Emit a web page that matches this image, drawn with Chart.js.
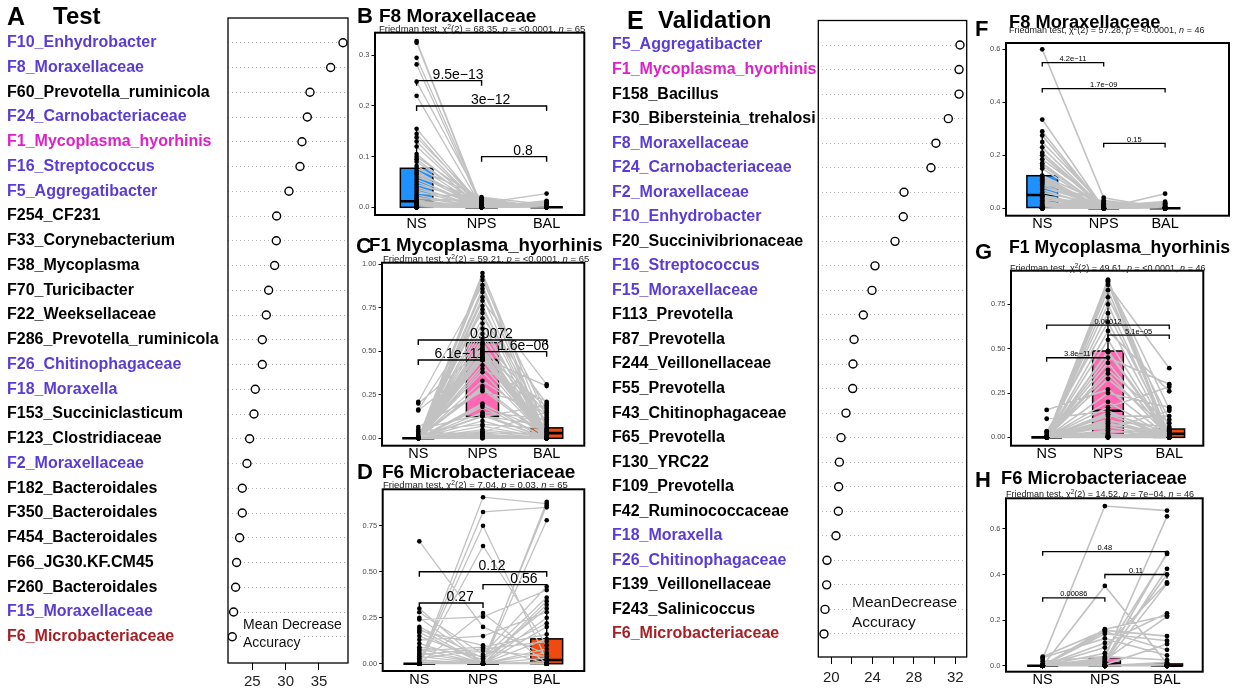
<!DOCTYPE html>
<html>
<head>
<meta charset="utf-8">
<script src="https://cdn.jsdelivr.net/npm/chart.js@4.4.1/dist/chart.umd.min.js"></script>
<style>
  html, body { margin: 0; padding: 0; background: #fff; }
  #fig { position: relative; width: 1233px; height: 691px; overflow: hidden;
         font-family: 'Liberation Sans', Arial, Helvetica, sans-serif; color: #000; }
  #fig canvas { position: absolute; left: 0; top: 0; }
  .t { position: absolute; transform: translateY(-50%); line-height: 1; white-space: nowrap; z-index: 5; }
  .b { font-weight: bold; }
  .sub { color: #1a1a1a; }
  .sub sup { font-size: 70%; vertical-align: 0.45em; line-height: 0; }
  .note { background: #fff; color: #111; }
</style>
</head>
<body>
<div id="fig">
  <!-- panel A / E headings -->
  <div class="t b" style="left:7px;top:16px;font-size:25px">A</div>
  <div class="t b" style="left:53px;top:16px;font-size:24px">Test</div>
  <div class="t b" style="left:627px;top:20px;font-size:25px">E</div>
  <div class="t b" style="left:658px;top:20px;font-size:24px">Validation</div>

  <!-- paired panel headings -->
  <div class="t b" style="left:357px;top:16px;font-size:22px">B</div>
  <div class="t b" style="left:379px;top:15px;font-size:19px">F8 Moraxellaceae</div>
  <div class="t sub" style="left:379px;top:28.5px;font-size:9.5px">Friedman test, χ<sup>2</sup>(2) = 68.35, <i>p</i> = &lt;0.0001, <i>n</i> = 65</div>

  <div class="t b" style="left:356px;top:246px;font-size:22px">C</div>
  <div class="t b" style="left:369px;top:245px;font-size:18.7px">F1 Mycoplasma_hyorhinis</div>
  <div class="t sub" style="left:383px;top:258.5px;font-size:9.5px">Friedman test, χ<sup>2</sup>(2) = 59.21, <i>p</i> = &lt;0.0001, <i>n</i> = 65</div>

  <div class="t b" style="left:357px;top:472px;font-size:22px">D</div>
  <div class="t b" style="left:382px;top:471px;font-size:19px">F6 Microbacteriaceae</div>
  <div class="t sub" style="left:383px;top:484.5px;font-size:9.5px">Friedman test, χ<sup>2</sup>(2) = 7.04, <i>p</i> = 0.03, <i>n</i> = 65</div>

  <div class="t b" style="left:975px;top:29px;font-size:22px">F</div>
  <div class="t b" style="left:1009px;top:21.5px;font-size:18.3px">F8 Moraxellaceae</div>
  <div class="t sub" style="left:1009px;top:29.5px;font-size:9px">Friedman test, χ<sup>2</sup>(2) = 57.28, <i>p</i> = &lt;0.0001, <i>n</i> = 46</div>

  <div class="t b" style="left:975px;top:252px;font-size:22px">G</div>
  <div class="t b" style="left:1009px;top:248px;font-size:17.7px">F1 Mycoplasma_hyorhinis</div>
  <div class="t sub" style="left:1010px;top:267.5px;font-size:9px">Friedman test, χ<sup>2</sup>(2) = 49.61, <i>p</i> = &lt;0.0001, <i>n</i> = 46</div>

  <div class="t b" style="left:975px;top:480px;font-size:22px">H</div>
  <div class="t b" style="left:1001px;top:478px;font-size:18.3px">F6 Microbacteriaceae</div>
  <div class="t sub" style="left:1006px;top:494px;font-size:9px">Friedman test, χ<sup>2</sup>(2) = 14.52, <i>p</i> = 7e−04, <i>n</i> = 46</div>

  <!-- importance axis notes -->
  <div class="t note" style="left:243px;top:624px;font-size:14px">Mean Decrease</div>
  <div class="t note" style="left:243px;top:642px;font-size:14px">Accuracy</div>
  <div class="t note" style="left:852px;top:602px;font-size:15.5px">MeanDecrease</div>
  <div class="t note" style="left:852px;top:622px;font-size:15.5px">Accuracy</div>
</div>

<script>
// ---------- feature importance (random forest, mean decrease accuracy) ----------
const testNames = ['F10_Enhydrobacter','F8_Moraxellaceae','F60_Prevotella_ruminicola','F24_Carnobacteriaceae',
  'F1_Mycoplasma_hyorhinis','F16_Streptococcus','F5_Aggregatibacter','F254_CF231','F33_Corynebacterium',
  'F38_Mycoplasma','F70_Turicibacter','F22_Weeksellaceae','F286_Prevotella_ruminicola','F26_Chitinophagaceae',
  'F18_Moraxella','F153_Succiniclasticum','F123_Clostridiaceae','F2_Moraxellaceae','F182_Bacteroidales',
  'F350_Bacteroidales','F454_Bacteroidales','F66_JG30.KF.CM45','F260_Bacteroidales','F15_Moraxellaceae',
  'F6_Microbacteriaceae'];
const testImportance = [38.6,36.75,33.65,33.25,32.45,32.15,30.5,28.65,28.6,28.35,27.45,27.1,26.5,26.5,
  25.45,25.25,24.6,24.2,23.5,23.5,23.1,22.65,22.5,22.2,22.0];
const testTone = ['b','b','k','b','m','b','b','k','k','k','k','k','k','b','b','k','k','b','k','k','k','k','k','b','r'];
const testTicks = [25,30,35];

const validNames = ['F5_Aggregatibacter','F1_Mycoplasma_hyorhinis','F158_Bacillus','F30_Bibersteinia_trehalosi',
  'F8_Moraxellaceae','F24_Carnobacteriaceae','F2_Moraxellaceae','F10_Enhydrobacter','F20_Succinivibrionaceae',
  'F16_Streptococcus','F15_Moraxellaceae','F113_Prevotella','F87_Prevotella','F244_Veillonellaceae',
  'F55_Prevotella','F43_Chitinophagaceae','F65_Prevotella','F130_YRC22','F109_Prevotella','F42_Ruminococcaceae',
  'F18_Moraxella','F26_Chitinophagaceae','F139_Veillonellaceae','F243_Salinicoccus','F6_Microbacteriaceae'];
const validImportance = [32.46,32.37,32.37,31.33,30.13,29.65,27.04,26.97,26.17,24.23,23.94,23.1,22.2,22.1,
  22.07,21.42,20.94,20.78,20.71,20.68,20.45,19.58,19.55,19.39,19.29];
const validTone = ['b','m','k','k','b','b','b','b','k','b','b','k','k','k','k','k','k','k','k','k','b','b','k','k','r'];
const validTicks = [20,22,24,26,28,30,32];
const validTickLabels = [20,24,28,32];

// ---------- paired relative abundance: NS / NPS / BAL ----------
const sites = ['NS','NPS','BAL'];

// B: F8 Moraxellaceae (test, n = 65)
const nsB = [
  0.328,0.325,0.295,0.282,0.248,0.220,0.155,0.145,0.138,0.130,
  0.120,0.105,0.100,0.095,0.090,0.082,0.077,0.072,0.068,0.065,
  0.060,0.055,0.050,0.045,0.040,0.036,0.032,0.028,0.024,0.020,
  0.017,0.014,0.012,0.011,0.010,0.009,0.008,0.007,0.006,0.005,
  0.004,0.004,0.003,0.003,0.002,0.002,0.001,0.001,0,0,
  0,0,0,0,0,0,0,0,0,0,
  0,0,0,0,0];
const npsB = [
  0.002,0,0.005,0,0.010,0,0.003,0,0.008,0,
  0.001,0,0.012,0,0.004,0,0.020,0,0.006,0,
  0.015,0,0,0.009,0,0.002,0,0.018,0,0,
  0.013,0,0.016,0,0,0,0,0,0,0,
  0,0,0,0,0,0,0,0,0,0,
  0,0,0,0,0,0,0,0,0,0,
  0,0,0,0,0];
const balB = [
  0,0.002,0,0,0.004,0,0,0.001,0.027,0,
  0.006,0,0,0.003,0,0,0.005,0,0,0.008,
  0,0,0.012,0,0,0.010,0,0,0.013,0,
  0,0.002,0,0,0,0,0,0,0,0,
  0,0,0,0,0,0,0,0,0,0,
  0,0,0,0,0,0,0,0,0,0,
  0,0,0,0,0];
// box summaries per site: [lower whisker, Q1, median, Q3, upper whisker]
const boxB = [[0,0,0.012,0.077,0.155],[0,0,0,0,0.004],[0,0,0,0.001,0.003]];
const testsB = [[0,1,0.25,'9.5e−13'],[0,2,0.20,'3e−12'],[1,2,0.10,'0.8']];

// C: F1 Mycoplasma_hyorhinis (test, n = 65)
const nsC = [
  0,0,0,0.21,0,0,0,0,0,0,
  0.165,0,0,0,0,0,0,0,0,0,
  0.20,0,0,0,0,0,0,0,0,0,
  0.16,0,0,0,0,0,0,0,0,0,
  0.065,0,0,0,0,0.05,0,0,0,0,
  0.04,0,0,0,0,0.03,0,0,0.02,0,
  0.015,0,0.01,0.005,0];
const npsC = [
  0.95,0.93,0.91,0.88,0.86,0.84,0.81,0.79,0.76,0.74,
  0.72,0.69,0.66,0.63,0.60,0.57,0.55,0.54,0.53,0.52,
  0.51,0.50,0.49,0.485,0.48,0.47,0.465,0.46,0.455,0.45,
  0.45,0.45,0.45,0.42,0.40,0.38,0.33,0.30,0.29,0.28,
  0.27,0.20,0.19,0.18,0.15,0.14,0.13,0.13,0.125,0.10,
  0.08,0.07,0.05,0.04,0.035,0.03,0.025,0.02,0.015,0.01,
  0.008,0.005,0.003,0.001,0];
const balC = [
  0.05,0,0.12,0,0.02,0.16,0,0.31,0,0.08,
  0,0.20,0,0.035,0,0.14,0,0.005,0.10,0,
  0.045,0,0.18,0,0.01,0,0.30,0,0.06,0,
  0.13,0,0.025,0,0.21,0,0.09,0,0.015,0,
  0.17,0,0.04,0,0.11,0,0.07,0,0.19,0,
  0.055,0,0.008,0,0.15,0.03,0,0.002,0,0.003,
  0,0,0,0,0];
const boxC = [[0,0,0,0,0],[0,0.125,0.45,0.55,0.95],[0,0,0.03,0.06,0.15]];
const testsC = [[0,1,0.45,'6.1e−11'],[0,2,0.565,'0.0072'],[1,2,0.498,'1.6e−06']];

// D: F6 Microbacteriaceae (test, n = 65)
const nsD = [
  0,0,0,0,0.665,0.30,0,0.28,0,0.25,
  0.24,0.20,0.19,0.18,0.17,0.15,0.13,0.11,0.09,0.08,
  0.07,0.06,0.05,0.04,0.03,0.02,0.01,0,0,0,
  0,0,0,0,0,0,0,0,0,0,
  0,0,0,0,0,0,0,0,0,0,
  0,0,0,0,0,0,0,0,0,0,
  0,0,0,0,0];
const npsD = [
  0.905,0.825,0.75,0.64,0.20,0,0.01,0.05,0.275,0,
  0.255,0.03,0,0.10,0,0.02,0.15,0,0.04,0,
  0.09,0,0.08,0,0.07,0,0,0,0,0,
  0,0,0,0,0,0,0,0,0,0,
  0,0,0,0,0,0,0,0,0,0,
  0,0,0,0,0,0,0,0,0,0,
  0,0,0,0,0];
const balD = [
  0.87,0.85,0.02,0.10,0.05,0.88,0.86,0.42,0,0.78,
  0.40,0.36,0.34,0,0.32,0.30,0.28,0.25,0.22,0.20,
  0.16,0.135,0.12,0.06,0.04,0.03,0.01,0.08,0,0,
  0,0,0,0,0,0,0,0,0,0,
  0,0,0,0,0,0,0,0,0,0,
  0,0,0,0,0,0,0,0,0,0,
  0,0,0,0,0];
const boxD = [[0,0,0,0,0],[0,0,0,0,0],[0,0,0.02,0.135,0.32]];
const testsD = [[0,1,0.33,'0.27'],[0,2,0.50,'0.12'],[1,2,0.43,'0.56']];

// F: F8 Moraxellaceae (validation, n = 46)
const nsF = [
  0.6,0.335,0.29,0.275,0.25,0.23,0.21,0.2,0.185,0.17,
  0.16,0.15,0.123,0.12,0.115,0.11,0.105,0.1,0.095,0.09,
  0.08,0.07,0.06,0.05,0.048,0.045,0.04,0.035,0.03,0.025,
  0.02,0.015,0.01,0.008,0.005,0,0,0,0,0,
  0,0,0,0,0,0];
const npsF = [
  0.04,0,0.003,0,0.01,0,0.002,0,0.015,0,
  0.006,0,0.02,0,0.001,0,0.005,0,0.025,0,
  0.008,0,0.012,0,0.004,0,0.018,0,0.03,0,
  0,0,0,0,0,0,0,0,0,0,
  0,0,0,0,0,0];
const balF = [
  0,0.002,0,0.01,0,0.005,0,0,0.02,0,
  0,0.015,0,0,0.003,0,0,0.008,0,0,
  0.025,0,0,0.018,0,0,0,0,0,0,
  0,0.055,0,0,0,0,0,0,0,0,
  0,0,0,0,0,0];
const boxF = [[0,0.003,0.05,0.123,0.29],[0,0,0,0,0],[0,0,0,0,0]];
const testsF = [[0,1,0.55,'4.2e−11'],[0,2,0.452,'1.7e−09'],[1,2,0.245,'0.15']];

// G: F1 Mycoplasma_hyorhinis (validation, n = 46)
const nsG = [
  0,0,0,0,0,0,0,0,0,0.03,
  0,0,0,0,0,0,0,0,0,0.155,
  0,0,0,0.105,0,0,0,0,0,0,
  0,0,0.035,0,0,0,0,0.02,0,0,
  0,0.01,0,0,0.005,0];
const npsG = [
  0.89,0.885,0.88,0.87,0.86,0.83,0.79,0.75,0.70,0.65,
  0.60,0.55,0.487,0.48,0.45,0.42,0.38,0.36,0.33,0.27,
  0.25,0.20,0.17,0.15,0.14,0.13,0.12,0.10,0.09,0.08,
  0.07,0.06,0.05,0.04,0.03,0.02,0.015,0.01,0.008,0.005,
  0.003,0.001,0,0,0,0];
const balG = [
  0.05,0,0.16,0,0.39,0,0.10,0,0.03,0,
  0.26,0,0.015,0,0.30,0,0.08,0,0.045,0,
  0.17,0,0.285,0,0.025,0,0.12,0,0.06,0,
  0.035,0,0.15,0,0.04,0,0.02,0,0.01,0,
  0.005,0,0,0,0,0];
const boxG = [[0,0,0,0,0],[0,0.02,0.15,0.487,0.89],[0,0,0.02,0.047,0.10]];
const testsG = [[0,1,0.449,'3.8e−11'],[0,2,0.633,'0.00012'],[1,2,0.577,'5.1e−05']];

// H: F6 Microbacteriaceae (validation, n = 46)
const nsH = [
  0.03,0,0,0.04,0,0,0.035,0,0,0,
  0.02,0,0,0,0.01,0,0,0,0,0,
  0,0,0,0,0,0,0,0,0,0,
  0,0,0,0,0,0,0,0,0,0,
  0,0,0,0,0,0];
const npsH = [
  0.70,0.35,0.16,0.155,0.15,0.14,0.12,0.10,0.08,0.055,
  0.04,0.035,0.03,0.025,0.02,0.015,0.01,0.005,0,0,
  0,0,0,0,0,0,0,0,0,0,
  0,0,0,0,0,0,0,0,0,0,
  0,0,0,0,0,0];
const balH = [
  0.68,0.01,0.22,0.13,0.07,0.11,0.045,0.23,0.365,0.49,
  0.025,0.655,0.40,0.215,0.495,0.425,0.36,0.095,0.015,0.005,
  0,0,0,0,0,0,0,0,0,0,
  0,0,0,0,0,0,0,0,0,0,
  0,0,0,0,0,0];
const boxH = [[0,0,0,0,0],[0,0,0.01,0.035,0.08],[0,0,0,0.008,0.015]];
const testsH = [[0,1,0.298,'0.00086'],[0,2,0.50,'0.48'],[1,2,0.40,'0.11']];

// ---------- drawing ----------
const FONT = "'Liberation Sans', Arial, Helvetica, sans-serif";
Chart.defaults.font.family = FONT;
Chart.defaults.color = '#000';
const W = 1233, H = 691;
const fig = document.getElementById('fig');
const toneColor = { b: '#5a3bd4', m: '#e01fc6', r: '#a51f24', k: '#000000' };
const siteFill = ['#1e90ff', '#ff69b4', '#f04a10'];

function addCanvas() {
  const c = document.createElement('canvas');
  c.width = W; c.height = H;
  c.style.width = W + 'px'; c.style.height = H + 'px';
  fig.appendChild(c);
  return c.getContext('2d');
}

// plot frame around the chart area
const framePlugin = {
  id: 'frame',
  afterDraw(chart, args, opts) {
    const { ctx, chartArea: a } = chart;
    ctx.save();
    ctx.strokeStyle = '#000';
    ctx.lineWidth = opts.width || 1.5;
    ctx.strokeRect(a.left, a.top, a.right - a.left, a.bottom - a.top);
    ctx.restore();
  }
};

// box-and-whisker per site, drawn under the paired lines
const boxPlugin = {
  id: 'boxes',
  beforeDatasetsDraw(chart, args, opts) {
    if (!opts.stats) return;
    const { ctx, chartArea: a, scales: { x, y } } = chart;
    ctx.save();
    ctx.beginPath(); ctx.rect(a.left, a.top, a.right - a.left, a.bottom - a.top); ctx.clip();
    opts.stats.forEach((s, g) => {
      const [lo, q1, med, q3, hi] = s;
      const cx = x.getPixelForValue(g);
      const hw = x.getPixelForValue(g + opts.width / 2) - cx;
      const yq1 = y.getPixelForValue(q1), yq3 = y.getPixelForValue(q3);
      ctx.strokeStyle = '#000';
      ctx.lineWidth = 1.4;
      ctx.beginPath();
      ctx.moveTo(cx, y.getPixelForValue(hi)); ctx.lineTo(cx, yq3);
      ctx.moveTo(cx, yq1); ctx.lineTo(cx, y.getPixelForValue(lo));
      ctx.stroke();
      if (yq1 - yq3 < 1.5) {
        ctx.lineWidth = 2.6;
        ctx.beginPath(); ctx.moveTo(cx - hw, yq1); ctx.lineTo(cx + hw, yq1); ctx.stroke();
      } else {
        ctx.fillStyle = siteFill[g];
        ctx.fillRect(cx - hw, yq3, 2 * hw, yq1 - yq3);
        ctx.lineWidth = 1.5;
        ctx.strokeRect(cx - hw, yq3, 2 * hw, yq1 - yq3);
        const ym = y.getPixelForValue(med);
        ctx.lineWidth = 2.6;
        ctx.beginPath(); ctx.moveTo(cx - hw, ym); ctx.lineTo(cx + hw, ym); ctx.stroke();
      }
    });
    ctx.restore();
  }
};

// pairwise comparison brackets with p-values
const bracketPlugin = {
  id: 'brackets',
  afterDatasetsDraw(chart, args, opts) {
    if (!opts.items) return;
    const { ctx, scales: { x, y } } = chart;
    ctx.save();
    ctx.strokeStyle = '#000'; ctx.fillStyle = '#000';
    ctx.lineWidth = opts.lineWidth;
    ctx.font = opts.size + 'px ' + FONT;
    ctx.textAlign = 'center'; ctx.textBaseline = 'alphabetic';
    opts.items.forEach(([g1, g2, v, label]) => {
      const x1 = x.getPixelForValue(g1), x2 = x.getPixelForValue(g2), yy = y.getPixelForValue(v);
      ctx.beginPath();
      ctx.moveTo(x1, yy + opts.tip); ctx.lineTo(x1, yy); ctx.lineTo(x2, yy); ctx.lineTo(x2, yy + opts.tip);
      ctx.stroke();
      ctx.fillText(label, (x1 + x2) / 2 + opts.dx, yy - opts.gap);
    });
    ctx.restore();
  }
};

function importancePanel(p) {
  const ctx = addCanvas();
  new Chart(ctx, {
    type: 'scatter',
    data: { datasets: [{
      data: p.values.map((v, i) => ({ x: v, y: i })),
      pointRadius: 4, pointBorderWidth: 1.4,
      pointBorderColor: '#000', pointBackgroundColor: '#fff'
    }] },
    options: {
      responsive: false, animation: false, events: [], devicePixelRatio: 1,
      layout: { padding: { left: p.labelLeft, top: p.area.t, right: W - p.area.r, bottom: 0 } },
      plugins: { legend: { display: false }, tooltip: { enabled: false }, frame: { width: 1.3 } },
      scales: {
        x: {
          type: 'linear', min: p.xr[0], max: p.xr[1],
          afterBuildTicks: s => { s.ticks = p.ticks.map(v => ({ value: v })); },
          ticks: { callback: v => (p.tickLabels.includes(v) ? String(v) : ''), font: { size: 15 },
                   color: '#222', padding: p.xPad, maxRotation: 0, autoSkip: false },
          grid: { drawOnChartArea: false, drawTicks: true, tickLength: 7, color: '#000', lineWidth: 1 },
          border: { display: false },
          afterFit: s => { s.height = H - p.area.b; }
        },
        y: {
          type: 'linear', reverse: true, min: p.yr[0], max: p.yr[1],
          afterBuildTicks: s => { s.ticks = p.names.map((_, i) => ({ value: i })); },
          ticks: { callback: v => p.names[v], color: c => toneColor[p.tones[c.index]],
                   crossAlign: 'far', font: { size: 16, weight: 'bold' }, autoSkip: false, padding: 0 },
          grid: { drawTicks: false, color: '#b3b3b3', lineWidth: 1 },
          border: { display: false, dash: [1, 3] },
          afterFit: s => { s.width = p.area.l - p.labelLeft; }
        }
      }
    },
    plugins: [framePlugin]
  });
}

function pairedPanel(p) {
  const ctx = addCanvas();
  const lines = [], dots = [];
  for (let i = 0; i < p.ns.length; i++) {
    [p.ns[i], p.nps[i], p.bal[i]].forEach((v, g) => {
      lines.push({ x: g, y: v });
      dots.push({ x: g, y: v });
    });
    lines.push({ x: 2, y: null });
  }
  const yw = 30, xh = Math.min(20, H - p.area.b);
  new Chart(ctx, {
    type: 'scatter',
    data: { datasets: [
      { type: 'scatter', data: dots, pointRadius: p.dot, pointBackgroundColor: '#000',
        pointBorderWidth: 0, pointBorderColor: '#000' },
      { type: 'line', data: lines, borderColor: '#c2c2c2', borderWidth: p.lw, pointRadius: 0,
        spanGaps: false, fill: false, tension: 0 }
    ] },
    options: {
      responsive: false, animation: false, events: [], devicePixelRatio: 1,
      layout: { padding: { left: p.area.l - yw, top: p.area.t, right: W - p.area.r, bottom: H - p.area.b - xh } },
      plugins: {
        legend: { display: false }, tooltip: { enabled: false },
        frame: { width: 2 },
        boxes: { stats: p.box, width: 0.5 },
        brackets: p.bracket
      },
      scales: {
        x: {
          type: 'linear', min: p.xr[0], max: p.xr[1],
          afterBuildTicks: s => { s.ticks = sites.map((_, i) => ({ value: i })); },
          ticks: { callback: v => sites[v], font: { size: 14.5 }, color: '#000', padding: 0,
                   maxRotation: 0, autoSkip: false },
          grid: { display: false, drawTicks: false },
          border: { display: false },
          afterFit: s => { s.height = xh; }
        },
        y: {
          type: 'linear', min: p.yr[0], max: p.yr[1],
          afterBuildTicks: s => { s.ticks = p.yt.map(v => ({ value: v })); },
          ticks: { callback: v => v.toFixed(p.dec), font: { size: 7.5 }, color: '#4d4d4d', padding: 2 },
          grid: { drawOnChartArea: false, drawTicks: true, tickLength: 3.5, color: '#000', lineWidth: 1 },
          border: { display: false },
          afterFit: s => { s.width = yw; }
        }
      }
    },
    plugins: [boxPlugin, bracketPlugin, framePlugin]
  });
}

importancePanel({ names: testNames, values: testImportance, tones: testTone, ticks: testTicks,
  tickLabels: testTicks, labelLeft: 7, area: { l: 228, t: 18, r: 348, b: 663 },
  xr: [21.36, 39.35], yr: [-1, 25.06], xPad: 3 });
importancePanel({ names: validNames, values: validImportance, tones: validTone, ticks: validTicks,
  tickLabels: validTickLabels, labelLeft: 612, area: { l: 818.3, t: 20.5, r: 966.7, b: 657 },
  xr: [18.74, 33.11], yr: [-1, 24.94], xPad: 5 });

const bigBracket = { size: 14, dx: 9, gap: 2, tip: 5, lineWidth: 1.4 };
const smallBracket = { size: 7.5, dx: 0, gap: 1.5, tip: 4, lineWidth: 1.3 };

pairedPanel({ ns: nsB, nps: npsB, bal: balB, box: boxB, bracket: { ...bigBracket, items: testsB },
  area: { l: 375, t: 32.7, r: 584.3, b: 215 }, xr: [-0.64, 2.58], yr: [-0.0152, 0.3446],
  yt: [0, 0.1, 0.2, 0.3], dec: 1, dot: 2.3, lw: 1.3 });
pairedPanel({ ns: nsC, nps: npsC, bal: balC, box: boxC, bracket: { ...bigBracket, items: testsC },
  area: { l: 382, t: 262.7, r: 584.3, b: 445.7 }, xr: [-0.565, 2.586], yr: [-0.0425, 1.009],
  yt: [0, 0.25, 0.5, 0.75, 1], dec: 2, dot: 2.3, lw: 1.3 });
pairedPanel({ ns: nsD, nps: npsD, bal: balD, box: boxD, bracket: { ...bigBracket, items: testsD },
  area: { l: 382.7, t: 489.3, r: 584.3, b: 671 }, xr: [-0.575, 2.59], yr: [-0.0397, 0.948],
  yt: [0, 0.25, 0.5, 0.75], dec: 2, dot: 2.3, lw: 1.3 });
pairedPanel({ ns: nsF, nps: npsF, bal: balF, box: boxF, bracket: { ...smallBracket, items: testsF },
  area: { l: 1006, t: 43, r: 1231, b: 215.7 }, xr: [-0.59, 3.04], yr: [-0.028, 0.624],
  yt: [0, 0.2, 0.4, 0.6], dec: 1, dot: 2.4, lw: 1.6 });
pairedPanel({ ns: nsG, nps: npsG, bal: balG, box: boxG, bracket: { ...smallBracket, items: testsG },
  area: { l: 1011, t: 270.7, r: 1203.3, b: 445.7 }, xr: [-0.582, 2.555], yr: [-0.047, 0.94],
  yt: [0, 0.25, 0.5, 0.75], dec: 2, dot: 2.4, lw: 1.6 });
pairedPanel({ ns: nsH, nps: npsH, bal: balH, box: boxH, bracket: { ...smallBracket, items: testsH },
  area: { l: 1006, t: 498.3, r: 1202.7, b: 671.7 }, xr: [-0.59, 2.574], yr: [-0.026, 0.734],
  yt: [0, 0.2, 0.4, 0.6], dec: 1, dot: 2.4, lw: 1.6 });
</script>
</body>
</html>
